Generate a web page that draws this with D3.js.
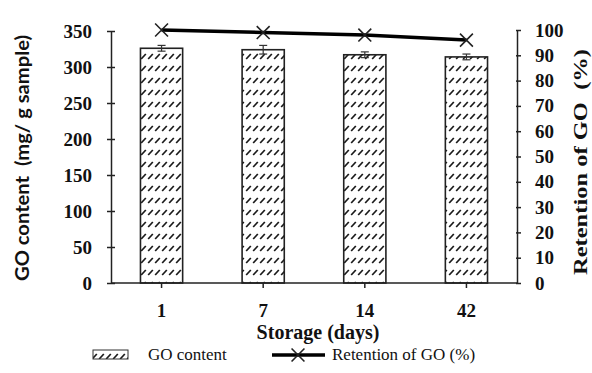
<!DOCTYPE html>
<html>
<head>
<meta charset="utf-8">
<script src="https://cdn.jsdelivr.net/npm/d3@7"></script>
<style>
  html, body { margin: 0; padding: 0; background: #fff; }
  svg { display: block; }
</style>
</head>
<body>
<svg id="chart" width="592" height="373"></svg>
<script>
// Storage days on the x axis
const days = ["1", "7", "14", "42"];
// GO content (mg/ g sample), bars with error bars
const goContent = [326, 324, 317, 314];
const goError = [4, 6, 4, 4];
// Retention of GO (%), line on the right axis
const retention = [100, 99, 98, 96];
// Tick values
const leftTicks = [0, 50, 100, 150, 200, 250, 300, 350];
const rightTicks = [0, 10, 20, 30, 40, 50, 60, 70, 80, 90, 100];

const svg = d3.select("#chart");
const serifFamily = '"Liberation Serif"';

const plotLeft = 111, plotRight = 517, plotTop = 31, plotBottom = 283;

const x = d3.scaleBand().domain(days).range([plotLeft, plotRight]).paddingInner(0.585).paddingOuter(0.29);
const yL = d3.scaleLinear().domain([0, 350]).range([plotBottom, plotTop]);
const yR = d3.scaleLinear().domain([0, 100]).range([plotBottom, 30]);

// Hatch fill for the bars: rows of short slanted dashes
const defs = svg.append("defs");
const pat = defs.append("pattern")
  .attr("id", "hatch")
  .attr("patternUnits", "userSpaceOnUse")
  .attr("width", 7).attr("height", 12)
  .attr("x", 0).attr("y", 2);
pat.append("rect").attr("width", 7).attr("height", 12).attr("fill", "#fff");
pat.append("line")
  .attr("x1", 1.2).attr("y1", 9).attr("x2", 5.8).attr("y2", 4)
  .attr("stroke", "#1a1a1a").attr("stroke-width", 1.7);

// Bars
svg.append("g").selectAll("rect")
  .data(goContent)
  .join("rect")
  .attr("x", (d, i) => x(days[i]))
  .attr("y", d => yL(d))
  .attr("width", x.bandwidth())
  .attr("height", d => yL(0) - yL(d))
  .attr("fill", "url(#hatch)")
  .attr("stroke", "#222")
  .attr("stroke-width", 1.6);

// Error bars
const eb = svg.append("g").attr("stroke", "#333").attr("stroke-width", 1.2);
goContent.forEach((v, i) => {
  const cx = x(days[i]) + x.bandwidth() / 2;
  eb.append("line").attr("x1", cx).attr("x2", cx).attr("y1", yL(v + goError[i])).attr("y2", yL(v - goError[i]));
  eb.append("line").attr("x1", cx - 4).attr("x2", cx + 4).attr("y1", yL(v + goError[i])).attr("y2", yL(v + goError[i]));
  eb.append("line").attr("x1", cx - 4).attr("x2", cx + 4).attr("y1", yL(v - goError[i])).attr("y2", yL(v - goError[i]));
});

// Axes
const axisStyle = g => {
  g.attr("font-family", null);
  g.selectAll("path, line").attr("stroke", "#222").attr("stroke-width", 1.5);
  g.selectAll("text").style("font-family", serifFamily).style("font-weight", "bold")
    .style("font-size", "19px").attr("fill", "#111");
};

const gL = svg.append("g").attr("transform", `translate(${plotLeft},0)`)
  .call(d3.axisLeft(yL).tickValues(leftTicks).tickSize(4).tickSizeOuter(0).tickPadding(15))
  .call(axisStyle);
gL.selectAll(".tick line").attr("x1", 4);

const gR = svg.append("g").attr("transform", `translate(${plotRight},0)`)
  .call(d3.axisRight(yR).tickValues(rightTicks).tickSize(4).tickSizeOuter(0).tickPadding(14))
  .call(axisStyle);
gR.selectAll(".tick line").attr("x1", -1);

const gX = svg.append("g").attr("transform", `translate(0,${plotBottom})`)
  .call(d3.axisBottom(x).tickSize(5).tickSizeOuter(0).tickPadding(19))
  .call(axisStyle);
gX.selectAll("text").attr("dy", "0.5em");
gX.select(".domain").attr("d", `M${plotLeft},0H${plotRight}`);

// Retention line with cross markers
const cx = d => x(d) + x.bandwidth() / 2;
svg.append("path")
  .datum(retention)
  .attr("d", d3.line().x((d, i) => cx(days[i])).y(d => yR(d)))
  .attr("fill", "none").attr("stroke", "#000").attr("stroke-width", 3.5);

const cross = d3.symbol().type(d3.symbolX).size(110);
svg.append("g").selectAll("path")
  .data(retention)
  .join("path")
  .attr("transform", (d, i) => `translate(${cx(days[i])},${yR(d)})`)
  .attr("d", cross)
  .attr("fill", "none").attr("stroke", "#222").attr("stroke-width", 1.6);

// Axis titles
svg.append("text")
  .attr("transform", "translate(29,158) rotate(-90)")
  .attr("text-anchor", "middle")
  .attr("textLength", 246).attr("lengthAdjust", "spacingAndGlyphs")
  .style("font-family", '"Lato"')
  .style("font-weight", "bold").style("font-size", "19px").attr("fill", "#111")
  .style("white-space", "pre")
  .text("GO content  (mg/ g sample)");

svg.append("text")
  .attr("transform", "translate(587,162) rotate(-90)")
  .attr("text-anchor", "middle")
  .attr("textLength", 226).attr("lengthAdjust", "spacingAndGlyphs")
  .style("font-family", serifFamily)
  .style("font-weight", "bold").style("font-size", "18px").attr("fill", "#111")
  .style("white-space", "pre")
  .text("Retention of GO  (%)");

svg.append("text")
  .attr("x", 318).attr("y", 339)
  .attr("text-anchor", "middle")
  .style("font-family", serifFamily)
  .style("font-weight", "bold").style("font-size", "20px").attr("fill", "#111")
  .text("Storage (days)");

// Legend
const lg = svg.append("g");
lg.append("rect").attr("x", 93).attr("y", 350).attr("width", 35).attr("height", 9)
  .attr("fill", "url(#hatch)").attr("stroke", "#333").attr("stroke-width", 1);
lg.append("text").attr("x", 148).attr("y", 360)
  .style("font-family", serifFamily).style("font-size", "17px").attr("fill", "#111")
  .text("GO content");
lg.append("line").attr("x1", 272).attr("x2", 325).attr("y1", 355).attr("y2", 355)
  .attr("stroke", "#000").attr("stroke-width", 3.5);
lg.append("path").attr("transform", "translate(298,355)").attr("d", cross)
  .attr("fill", "none").attr("stroke", "#222").attr("stroke-width", 1.6);
lg.append("text").attr("x", 332).attr("y", 360)
  .style("font-family", serifFamily).style("font-size", "17px").attr("fill", "#111")
  .text("Retention of GO (%)");
</script>
</body>
</html>
